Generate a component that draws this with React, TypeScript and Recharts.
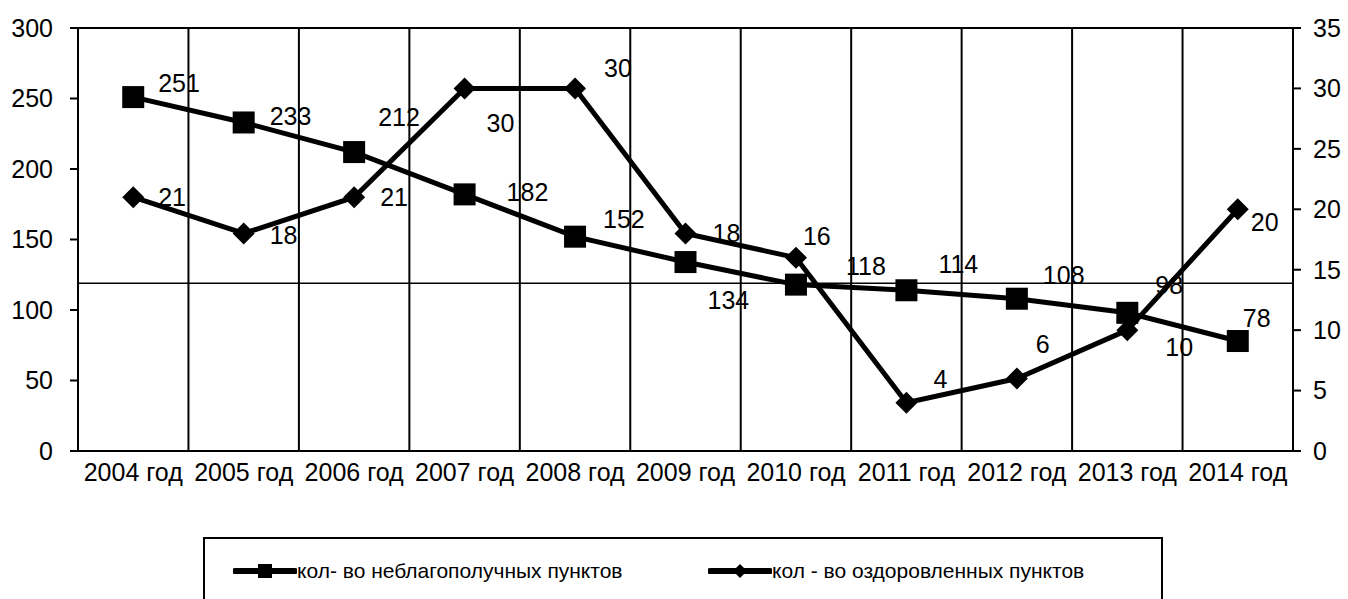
import React from "react";
import {
  CartesianGrid,
  ComposedChart,
  LabelList,
  Legend,
  Line,
  ReferenceLine,
  XAxis,
  YAxis,
} from "recharts";

const YEARS = [
  "2004 год",
  "2005 год",
  "2006 год",
  "2007 год",
  "2008 год",
  "2009 год",
  "2010 год",
  "2011 год",
  "2012 год",
  "2013 год",
  "2014 год",
];
// кол- во неблагополучных пунктов (left axis)
const TROUBLED = [251, 233, 212, 182, 152, 134, 118, 114, 108, 98, 78];
// кол - во оздоровленных пунктов (right axis)
const RECOVERED = [21, 18, 21, 30, 30, 18, 16, 4, 6, 10, 20];

const LEFT_TICKS = [0, 50, 100, 150, 200, 250, 300];
const RIGHT_TICKS = [0, 5, 10, 15, 20, 25, 30, 35];
const STRAY_LINE = 119;

// hand-placed label offsets, as in the source
const TROUBLED_LABEL_DXY = [
  [25, -14], [26, -6], [24, -35], [42, -2], [28, -18], [22, 38],
  [50, -19], [32, -26], [26, -24], [28, -28], [5, -23],
];
const RECOVERED_LABEL_DXY = [
  [25, 0], [26, 2], [26, 0], [22, 35], [29, -20], [27, 0],
  [7, -22], [27, -24], [19, -34], [38, 17], [13, 13],
];

const FONT = '"Liberation Sans", Arial, sans-serif';
const W = 1348;
const H = 599;

const data = YEARS.map((year, i) => ({
  year,
  troubled: TROUBLED[i],
  recovered: RECOVERED[i],
}));

function SquareDot(props: any) {
  const { cx, cy } = props;
  if (cx == null || cy == null) return null;
  return <rect x={cx - 11} y={cy - 11} width={22} height={22} fill="#000" />;
}

function DiamondDot(props: any) {
  const { cx, cy } = props;
  if (cx == null || cy == null) return null;
  const r = 11;
  return (
    <polygon
      points={`${cx},${cy - r} ${cx + r},${cy} ${cx},${cy + r} ${cx - r},${cy}`}
      fill="#000"
    />
  );
}

const makeLabel = (offsets: number[][]) => (props: any) => {
  const { x, y, value, index } = props;
  const [dx, dy] = offsets[index] ?? [25, 0];
  return (
    <text
      x={x + dx}
      y={y + dy}
      dominantBaseline="central"
      fontSize={25}
      fontFamily={FONT}
      fill="#000"
    >
      {value}
    </text>
  );
};

function LegendBox() {
  return (
    <div
      style={{
        boxSizing: "border-box",
        width: 960,
        height: 80,
        border: "2px solid #000",
        fontFamily: FONT,
        fontSize: 21,
        position: "relative",
      }}
    >
      <div style={{ position: "absolute", left: 28, top: 20, display: "flex", alignItems: "center" }}>
        <svg width={64} height={20}>
          <line x1={2} y1={10} x2={62} y2={10} stroke="#000" strokeWidth={6} strokeLinecap="round" />
          <rect x={25} y={3} width={14} height={14} fill="#000" />
        </svg>
        <span>кол- во неблагополучных пунктов</span>
      </div>
      <div style={{ position: "absolute", left: 503, top: 20, display: "flex", alignItems: "center" }}>
        <svg width={64} height={20}>
          <line x1={2} y1={10} x2={62} y2={10} stroke="#000" strokeWidth={6} strokeLinecap="round" />
          <polygon points="32,3 39,10 32,17 25,10" fill="#000" />
        </svg>
        <span>кол - во оздоровленных пунктов</span>
      </div>
    </div>
  );
}

export default function App() {
  const tickStyle = { fontSize: 25, fill: "#000", fontFamily: FONT };
  return (
    <div style={{ position: "absolute", left: 0, top: 0, width: W, height: H, background: "#fff" }}>
      <ComposedChart
        width={W}
        height={H}
        data={data}
        margin={{ top: 28, right: 0, left: 0, bottom: 108 }}
      >
        <CartesianGrid
          horizontal={false}
          stroke="#000"
          strokeWidth={2}
          verticalCoordinatesGenerator={({ offset }: any) =>
            Array.from(
              { length: YEARS.length + 1 },
              (_, i) => offset.left + (i * offset.width) / YEARS.length
            )
          }
        />
        <XAxis
          dataKey="year"
          scale="band"
          interval={0}
          tick={tickStyle}
          tickLine={false}
          tickSize={6}
          tickMargin={6}
          axisLine={{ stroke: "#000", strokeWidth: 2 }}
          height={40}
        />
        <YAxis
          yAxisId="left"
          domain={[0, 300]}
          ticks={LEFT_TICKS}
          tick={tickStyle}
          tickSize={8}
          tickMargin={17}
          tickLine={{ stroke: "#000", strokeWidth: 2 }}
          axisLine={{ stroke: "#000", strokeWidth: 2 }}
          width={78}
        />
        <YAxis
          yAxisId="right"
          orientation="right"
          domain={[0, 35]}
          ticks={RIGHT_TICKS}
          tick={tickStyle}
          tickSize={8}
          tickMargin={12}
          tickLine={{ stroke: "#000", strokeWidth: 2 }}
          axisLine={{ stroke: "#000", strokeWidth: 2 }}
          width={55}
        />
        <ReferenceLine yAxisId="left" y={300} stroke="#000" strokeWidth={2} />
        <ReferenceLine yAxisId="left" y={STRAY_LINE} stroke="#000" strokeWidth={1.5} />
        <Line
          yAxisId="left"
          dataKey="troubled"
          type="linear"
          stroke="#000"
          strokeWidth={5}
          dot={<SquareDot />}
          isAnimationActive={false}
        >
          <LabelList dataKey="troubled" content={makeLabel(TROUBLED_LABEL_DXY)} />
        </Line>
        <Line
          yAxisId="right"
          dataKey="recovered"
          type="linear"
          stroke="#000"
          strokeWidth={5}
          dot={<DiamondDot />}
          isAnimationActive={false}
        >
          <LabelList dataKey="recovered" content={makeLabel(RECOVERED_LABEL_DXY)} />
        </Line>
        <Legend
          verticalAlign="middle"
          align="center"
          layout="horizontal"
          content={() => <LegendBox />}
          wrapperStyle={{ left: 203, top: 537, width: 960, height: 80 }}
        />
      </ComposedChart>
    </div>
  );
}
